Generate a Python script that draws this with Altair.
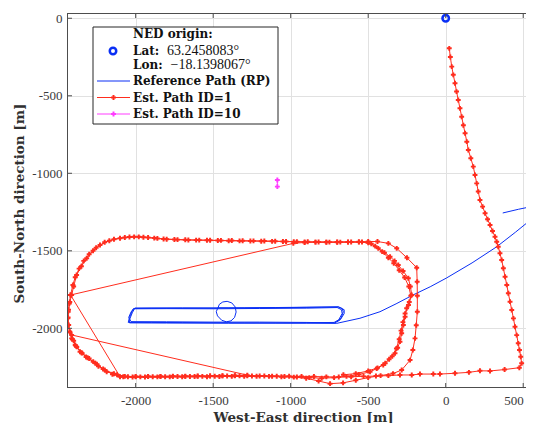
import altair as alt
import pandas as pd

# ---------------- data (metres, NED frame) ----------------
x_ticks = [-2000, -1500, -1000, -500, 0, 500]
y_ticks = [-2000, -1500, -1000, -500, 0]
X_DOMAIN = [-2443, 518]
Y_DOMAIN = [-2385, 34]

origin_x = [0]
origin_y = [0]

# Reference path (RP): short piece entering/leaving at the right edge
ref_piece_b = [(368, -1256), (470, -1232), (600, -1205)]
# Reference path: approach from the right edge and laps of the rectangle
ref_piece_a = [
    (620, -1250), (563, -1288), (450, -1380), (329, -1474), (170, -1578), (6, -1675),
    (-100, -1732), (-211, -1785), (-320, -1842), (-424, -1893), (-553, -1935), (-703, -1968),
    (-900, -1967), (-1100, -1966), (-1300, -1965), (-1500, -1964), (-1700, -1963), (-1900, -1962),
    (-2048, -1962), (-2040, -1930), (-2025, -1895), (-2012, -1872), (-1900, -1871), (-1700, -1871),
    (-1470, -1870), (-1460, -1845), (-1438, -1830), (-1410, -1826), (-1380, -1836), (-1358, -1862),
    (-1352, -1895), (-1362, -1930), (-1385, -1952), (-1415, -1958), (-1445, -1948), (-1472, -1920),
    (-1480, -1893), (-1470, -1868), (-1300, -1868), (-1100, -1866), (-900, -1864), (-693, -1861),
    (-668, -1872), (-661, -1893), (-675, -1935), (-714, -1965),
    (-900, -1962), (-1200, -1960), (-1500, -1960), (-1800, -1958), (-2030, -1957), (-2045, -1930),
    (-2030, -1895), (-2015, -1874), (-1800, -1873), (-1500, -1874), (-1200, -1872), (-900, -1870),
    (-700, -1866), (-672, -1880), (-668, -1905), (-690, -1945), (-720, -1962),
    (-1000, -1966), (-1400, -1967), (-1800, -1966), (-2040, -1965), (-2038, -1940), (-2022, -1900),
    (-2005, -1869), (-1700, -1868), (-1400, -1869), (-1100, -1867), (-800, -1864), (-690, -1863),
    (-655, -1880), (-655, -1905), (-680, -1945), (-705, -1960),
]

# Estimated path ID=1
est1_approach = [
    (23, -194), (30, -250), (39, -312), (49, -365), (60, -419), (70, -473), (81, -527), (92, -581),
    (103, -635), (114, -690), (125, -742), (136, -796), (146, -850), (162, -903), (178, -957),
    (189, -1011), (200, -1065), (210, -1118), (221, -1172), (238, -1215), (254, -1258), (270, -1296),
    (286, -1334), (302, -1372), (318, -1409), (329, -1442), (339, -1474), (350, -1516), (361, -1559),
    (372, -1613), (383, -1667), (394, -1720), (404, -1774), (415, -1828), (426, -1882), (437, -1936),
    (447, -1990), (458, -2044), (468, -2097), (476, -2140), (484, -2183), (490, -2226), (475, -2254),
    (380, -2266), (286, -2275), (221, -2274), (150, -2284), (60, -2290), (-37, -2295), (-80, -2295),
    (-166, -2295), (-219, -2301), (-295, -2301),
]
est1_lap1 = [
    (-370, -2305), (-450, -2308), (-530, -2310), (-610, -2312), (-690, -2314), (-770, -2313),
    (-850, -2311), (-930, -2310), (-1010, -2309), (-1090, -2309), (-1170, -2308), (-1250, -2308),
    (-1330, -2307), (-1410, -2308), (-1490, -2309), (-1570, -2310), (-1650, -2311), (-1730, -2311),
    (-1810, -2312), (-1890, -2312), (-1970, -2313), (-2050, -2312), (-2120, -2300), (-2187, -2280),
    (-2240, -2245), (-2274, -2215), (-2320, -2185), (-2359, -2151), (-2390, -2108), (-2413, -2065),
    (-2426, -2020), (-2435, -1979), (-2438, -1936), (-2435, -1893), (-2428, -1840), (-2420, -1785),
    (-983, -1452), (-910, -1446), (-840, -1444), (-770, -1444), (-700, -1443), (-630, -1443),
    (-560, -1442), (-500, -1440), (-440, -1440), (-370, -1452), (-316, -1484), (-250, -1545),
    (-187, -1609), (-184, -1700), (-183, -1790), (-183, -1893), (-190, -1980), (-198, -2065),
    (-212, -2140), (-230, -2205), (-284, -2269), (-340, -2292),
]
est1_lap2 = [
    (-420, -2305), (-500, -2318), (-580, -2335), (-662, -2352), (-746, -2357), (-820, -2340),
    (-900, -2322), (-980, -2315), (-1060, -2312), (-1140, -2310), (-1220, -2309), (-1300, -2309),
    (-1380, -2310), (-1460, -2311), (-1540, -2312), (-1620, -2311), (-1700, -2312), (-1780, -2313),
    (-1860, -2313), (-1940, -2314), (-2020, -2314), (-2080, -2312), (-2150, -2296), (-2210, -2262),
    (-2260, -2225), (-2310, -2190), (-2350, -2158), (-2385, -2115), (-2408, -2070), (-2424, -2025),
    (-2432, -1979), (-2436, -1930), (-2433, -1880), (-2425, -1830), (-2413, -1785), (-2400, -1730),
    (-2381, -1656), (-2350, -1600), (-2316, -1548), (-2275, -1500), (-2230, -1463), (-2170, -1435),
    (-2101, -1419), (-2040, -1411), (-1980, -1410), (-1920, -1414), (-1860, -1420), (-1800, -1425),
    (-1730, -1428), (-1660, -1430), (-1590, -1431), (-1520, -1432), (-1450, -1433), (-1380, -1434),
    (-1310, -1435), (-1240, -1436), (-1170, -1437), (-1100, -1438), (-1030, -1440), (-960, -1441),
    (-890, -1442), (-820, -1443), (-750, -1444), (-680, -1444), (-610, -1443), (-540, -1443),
    (-480, -1455), (-435, -1484), (-395, -1512), (-359, -1538), (-330, -1565), (-306, -1592),
    (-275, -1630), (-241, -1677), (-228, -1730), (-219, -1785), (-235, -1830), (-252, -1871),
    (-262, -1925), (-273, -1979), (-284, -2032), (-295, -2086), (-310, -2125), (-327, -2161),
    (-365, -2200), (-403, -2237), (-445, -2260), (-488, -2280), (-560, -2298),
]
est1_lap3 = [
    (-640, -2310), (-720, -2318), (-800, -2322), (-880, -2318), (-960, -2314), (-1040, -2311),
    (-1120, -2309), (-1200, -2308), (-1280, -2307), (-1360, -2306), (-1440, -2307), (-1520, -2308),
    (-1600, -2309), (-1680, -2310), (-1760, -2310), (-1840, -2311), (-1920, -2311), (-2000, -2312),
    (-2070, -2310), (-2140, -2293), (-2200, -2268), (-2250, -2232), (-2300, -2195), (-2345, -2160),
    (-2380, -2120), (-2400, -2080), (-2413, -2043),
    (-1280, -2302), (-1360, -2305), (-1440, -2306), (-1520, -2307), (-1600, -2308), (-1680, -2309),
    (-1760, -2309), (-1840, -2310), (-1920, -2310), (-2000, -2311), (-2101, -2312),
    (-2420, -1785), (-2405, -1720), (-2390, -1670), (-2365, -1615), (-2335, -1565), (-2300, -1522),
    (-2255, -1480), (-2200, -1445), (-2140, -1425), (-2070, -1414), (-2010, -1410), (-1950, -1413),
    (-1880, -1418), (-1820, -1424), (-1750, -1427), (-1680, -1429), (-1610, -1431), (-1540, -1432),
    (-1470, -1434), (-1400, -1435), (-1330, -1436), (-1260, -1437), (-1190, -1438), (-1120, -1439),
    (-1050, -1440), (-980, -1441), (-910, -1443), (-840, -1444), (-770, -1445), (-700, -1445),
    (-630, -1444), (-560, -1444), (-500, -1448), (-455, -1470), (-410, -1505), (-370, -1545),
    (-335, -1580), (-300, -1625), (-265, -1672), (-238, -1730), (-225, -1790), (-240, -1850),
    (-262, -1905), (-276, -1960), (-288, -2015), (-300, -2070), (-318, -2130), (-345, -2180),
    (-390, -2225), (-440, -2255), (-500, -2275), (-580, -2292), (-660, -2300),
]

# Estimated path ID=10
est10_x = [-1086, -1086]
est10_y = [-1043, -1086]

BLUE = "#0a2ff5"
RED = "#ff2d1e"
MAGENTA = "#ff3cff"
FONT = "Liberation Serif"
BFONT = "DejaVu Serif"
W, H = 459, 375


def to_frame(pieces):
    rows = []
    i = 0
    for name, pts in pieces:
        for x, y in pts:
            rows.append({"x": x, "y": y, "i": i, "seg": name})
            i += 1
    return pd.DataFrame(rows)


ref_df = to_frame([("a", ref_piece_a), ("b", ref_piece_b)])
est1_df = to_frame([("p", est1_approach + est1_lap1 + est1_lap2 + est1_lap3)])
est10_df = pd.DataFrame({"x": est10_x, "y": est10_y, "i": [0, 1]})
origin_df = pd.DataFrame({"x": origin_x, "y": origin_y})

xs = alt.Scale(domain=X_DOMAIN, nice=False, zero=False)
ys = alt.Scale(domain=Y_DOMAIN, nice=False, zero=False)

x_axis = alt.Axis(
    values=x_ticks, labelExpr="'' + datum.value", title="West-East direction [m]",
    titleFont=BFONT, titleFontSize=13.5, titleFontWeight="bold", titleColor="#303030",
    titleX=236, titleY=29, titleBaseline="middle", titleAlign="center",
    labelFont=FONT, labelFontSize=13, labelColor="#3a3a3a", labelPadding=6,
    labelAlign={"condition": {"test": "datum.value == 500", "value": "right"}, "value": "center"},
    tickSize=0, domain=False, grid=True, gridColor="#e1e1e1", gridWidth=1,
)
y_axis = alt.Axis(
    values=y_ticks, labelExpr="'' + datum.value", title="South-North direction [m]",
    titleFont=BFONT, titleFontSize=13.5, titleFontWeight="bold", titleColor="#303030",
    titleX=-48, titleY=190, titleBaseline="middle", titleAlign="center", titleAngle=-90,
    labelFont=FONT, labelFontSize=13, labelColor="#3a3a3a", labelPadding=5,
    tickSize=0, domain=False, grid=True, gridColor="#e1e1e1", gridWidth=1,
)


def X(field):
    return alt.X(field, scale=xs, axis=x_axis)


def Y(field):
    return alt.Y(field, scale=ys, axis=y_axis)


ref_line = alt.Chart(ref_df).mark_line(color=BLUE, strokeWidth=1, clip=True).encode(
    x=X("x:Q"), y=Y("y:Q"), order="i:Q", detail="seg:N",
)
origin_pt = alt.Chart(origin_df).mark_point(
    shape="circle", filled=False, color=BLUE, strokeWidth=2.5, size=42, opacity=1, clip=True
).encode(x=X("x:Q"), y=Y("y:Q"))

est1_line = alt.Chart(est1_df).mark_line(color=RED, strokeWidth=1, clip=True).encode(
    x=X("x:Q"), y=Y("y:Q"), order="i:Q"
)
est1_pts = alt.Chart(est1_df).mark_point(
    shape="cross", filled=True, color=RED, size=24, opacity=1, clip=True
).encode(x=X("x:Q"), y=Y("y:Q"))

est10_line = alt.Chart(est10_df).mark_line(color=MAGENTA, strokeWidth=1, clip=True).encode(
    x=X("x:Q"), y=Y("y:Q"), order="i:Q"
)
est10_pts = alt.Chart(est10_df).mark_point(
    shape="cross", filled=True, color=MAGENTA, size=24, opacity=1, clip=True
).encode(x=X("x:Q"), y=Y("y:Q"))

# inward ticks (MATLAB style)
xt_df = pd.DataFrame({"x": x_ticks})
yt_df = pd.DataFrame({"y": y_ticks})
TICK = "#4d4d4d"
tick_bottom = alt.Chart(xt_df).mark_rule(color=TICK, strokeWidth=1).encode(
    x=X("x:Q"), y=alt.value(H), y2=alt.value(H - 5))
tick_top = alt.Chart(xt_df).mark_rule(color=TICK, strokeWidth=1).encode(
    x=X("x:Q"), y=alt.value(0), y2=alt.value(5))
tick_left = alt.Chart(yt_df).mark_rule(color=TICK, strokeWidth=1).encode(
    y=Y("y:Q"), x=alt.value(0), x2=alt.value(5))

one = pd.DataFrame({"d": [0]})
lb = alt.Chart(one)

# box lines (top, left, bottom; the right side lies beyond the picture)
frame = [
    lb.mark_rule(color=TICK, strokeWidth=1).encode(x=alt.value(0), x2=alt.value(W), y=alt.value(0.5)),
    lb.mark_rule(color=TICK, strokeWidth=1).encode(x=alt.value(0.5), y=alt.value(0), y2=alt.value(H)),
    lb.mark_rule(color=TICK, strokeWidth=1).encode(x=alt.value(0), x2=alt.value(W), y=alt.value(H - 0.5)),
]

# legend (drawn by hand, MATLAB style box)
leg_box = lb.mark_rect(fill="white", stroke="#262626", strokeWidth=1).encode(
    x=alt.value(26), x2=alt.value(211), y=alt.value(14), y2=alt.value(111))


def txt(s, x, y, bold=True):
    return lb.mark_text(
        text=s, align="left", baseline="middle",
        font=BFONT if bold else FONT,
        fontSize=12 if bold else 14,
        fontWeight="bold" if bold else "normal", color="#111111",
    ).encode(x=alt.value(x), y=alt.value(y))


leg_items = [
    txt("NED origin:", 66, 21),
    lb.mark_point(shape="circle", filled=False, color=BLUE, strokeWidth=2.5, size=42, opacity=1).encode(
        x=alt.value(46), y=alt.value(38)),
    txt("Lat:", 66, 38), txt("63.2458083°", 100, 38, bold=False),
    txt("Lon:", 66, 51.5), txt("\u221218.1398067°", 103.5, 51.5, bold=False),
    lb.mark_rule(color=BLUE, strokeWidth=1).encode(x=alt.value(30), x2=alt.value(63), y=alt.value(68)),
    txt("Reference Path (RP)", 66, 68),
    lb.mark_rule(color=RED, strokeWidth=1).encode(x=alt.value(30), x2=alt.value(63), y=alt.value(84.5)),
    lb.mark_point(shape="cross", filled=True, color=RED, size=24, opacity=1).encode(
        x=alt.value(46.5), y=alt.value(84.5)),
    txt("Est. Path ID=1", 66, 84.5),
    lb.mark_rule(color=MAGENTA, strokeWidth=1).encode(x=alt.value(30), x2=alt.value(63), y=alt.value(101)),
    lb.mark_point(shape="cross", filled=True, color=MAGENTA, size=24, opacity=1).encode(
        x=alt.value(46.5), y=alt.value(101)),
    txt("Est. Path ID=10", 66, 101),
]

chart = alt.layer(
    ref_line, origin_pt, est1_line, est1_pts, est10_line, est10_pts,
    tick_bottom, tick_top, tick_left, *frame, leg_box, *leg_items,
).properties(
    width=W, height=H,
    autosize=alt.AutoSizeParams(type="none"),
    padding={"left": 59, "top": 5, "right": 0, "bottom": 35},
    background="white",
).configure_view(stroke=None)

chart.save("out.html", embed_options={"renderer": "svg", "actions": False})
